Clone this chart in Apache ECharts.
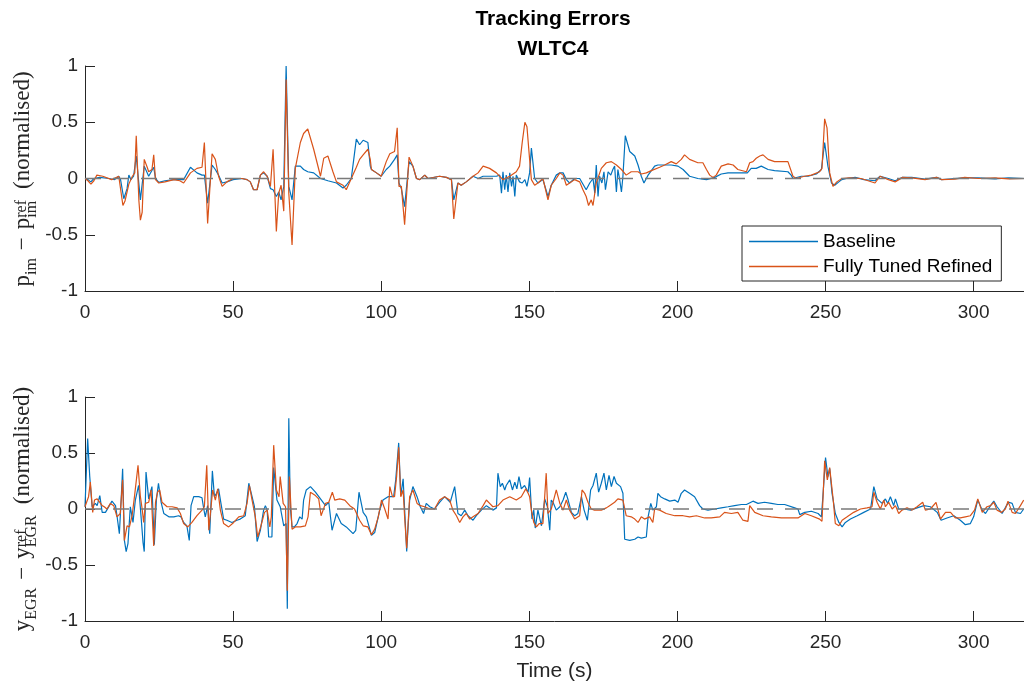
<!DOCTYPE html>
<html lang="en">
<head>
    <meta charset="UTF-8">
    <title>Tracking Errors WLTC4</title>
    <script src="https://cdn.jsdelivr.net/npm/echarts@6/dist/echarts.min.js"></script>
    <style>
        html, body {
            margin: 0;
            padding: 0;
            background: #fff;
        }

        #main {
            width: 1024px;
            height: 687px;
        }
    </style>
</head>
<body>
<div id="main"></div>
<script type="text/javascript">
    // axis ticks
    var timeTicks = [0, 50, 100, 150, 200, 250, 300];
    var timeMax = 317;
    var errorTicks = [-1, -0.5, 0, 0.5, 1];
    var seriesNames = ['Baseline', 'Fully Tuned Refined'];

    // [time (s), normalised error]  -- intake manifold pressure
    var pimBaseline = [
        [0, 0], [1, -0.01], [2, -0.03], [3, 0], [5, 0.01], [8, 0], [10, -0.01], [11.4, 0.02], [12, -0.01], [13.1, -0.18],
        [14.2, -0.09], [14.8, 0.03], [15.5, -0.01], [16.4, 0.02], [17.3, 0.2], [18.7, -0.19], [20, 0.11], [21.5, 0.02],
        [23.2, 0.1], [23.8, 0], [24.9, -0.035], [27, -0.02], [30, -0.01], [33.3, -0.01], [35.6, 0.1], [37.8, 0.05],
        [39.5, 0.03], [40.3, 0.03], [41.4, -0.22], [42.9, 0.12], [44, 0.08], [45.1, 0.03], [46.3, -0.04], [47.9, -0.03],
        [50, -0.01], [53, 0], [54.7, -0.01], [55.8, -0.03], [56.9, -0.1], [58.1, -0.1], [59.2, 0.03], [60.3, 0.05],
        [61.5, 0.02], [62.6, -0.09], [63.5, -0.1], [64.6, -0.16], [65.4, -0.12], [66.2, -0.19], [67.1, -0.07], [67.9, 1.0],
        [68.8, -0.07], [69.9, -0.19], [71, 0.11], [72.7, 0.11], [73.8, 0.08], [75.2, 0.06], [77.2, 0.05], [79.5, 0],
        [82, -0.02], [84.9, -0.04], [87.1, -0.085], [88.2, -0.06], [89.9, 0], [91.6, 0.35], [92.7, 0.3], [93.9, 0.34],
        [95.5, 0.32], [96.3, 0.11], [96.7, 0.08], [98.4, 0.05], [100, 0.02], [101.7, 0.08], [102.9, 0.11], [104.5, 0.17],
        [105.4, 0.21], [106, -0.04], [106.8, -0.09], [107.9, -0.25], [109.4, 0.15], [110.7, 0.11], [111.9, 0], [113, -0.01],
        [114.7, 0.03], [115.8, 0], [119.7, 0.02], [122, 0.01], [123.7, -0.01], [124.5, -0.19], [125.9, -0.04], [127, -0.06],
        [128.7, -0.03], [131, 0.02], [132.7, 0], [134.4, 0.02], [136.6, 0.02], [138.9, 0.02], [140, 0.03], [140.6, -0.13],
        [141.1, 0.06], [141.7, -0.1], [142.2, 0.03], [142.8, -0.12], [143.4, 0.05], [144, -0.07], [144.5, 0.02], [145.1, -0.16],
        [145.6, 0.03], [146.7, -0.03], [147.6, -0.04], [148.5, -0.01], [149.2, -0.07], [150.1, 0.05], [150.7, 0.27],
        [151.2, 0.26], [151.8, 0], [152.9, -0.04], [154.6, -0.01], [156.3, -0.16], [157.4, -0.06], [159.1, 0.03], [160.3, 0.05],
        [161.4, 0.05], [162.5, -0.01], [163.6, -0.04], [165.3, 0], [167, 0], [169.2, -0.1], [170.4, -0.04], [171.5, 0],
        [172.1, -0.13], [172.6, 0.12], [173.2, -0.16], [173.7, 0.02], [174.5, -0.04], [175.2, 0.06], [175.7, -0.1],
        [176.6, 0.06], [177.5, 0.03], [178.2, 0.08], [178.8, 0.11], [179.4, -0.12], [179.9, 0.08], [180.5, -0.01],
        [181.1, -0.12], [181.6, 0.02], [182.4, 0.38], [183.9, 0.24], [185.6, 0.2], [186.7, 0.12], [187.8, 0.02], [188.7, -0.04],
        [190.1, 0.03], [192.3, 0.11], [193.4, 0.12], [195.7, 0.12], [197.9, 0.12], [200.2, 0.11], [201.9, 0.08], [204.1, 0.02],
        [206.9, 0], [209.8, -0.01], [212.6, 0.01], [214.8, 0.04], [217.1, 0.05], [220.4, 0.05], [223.6, 0.05], [224.9, 0.09],
        [226.6, 0.09], [228.3, 0.11], [230.6, 0.08], [232.8, 0.07], [237.3, 0.06], [238.4, 0.03], [239, 0], [241.8, 0.02],
        [244.1, 0.02], [246.9, 0.04], [248.6, 0.08], [249.7, 0.32], [250.8, 0.11], [252, -0.04], [253.1, -0.06], [254.5, -0.03],
        [255.5, -0.01], [257, 0], [260, 0.01], [263, -0.01], [266.7, -0.02], [268.4, 0.02], [271.2, 0], [273.5, -0.02],
        [276, 0.01], [279.1, 0.01], [283.6, -0.005], [287.5, 0.01], [289.2, -0.01], [293.7, 0], [297, 0.005], [301.6, 0.005],
        [307.2, -0.003], [311.7, 0.005], [317, 0]
    ];
    var pimTuned = [
        [0, 0], [1, -0.02], [2, -0.05], [3, -0.02], [4, 0.03], [6, 0.02], [9, -0.01], [11.4, 0.02], [12, 0.01], [12.8, -0.24],
        [13.5, -0.2], [14.8, -0.05], [16, 0.02], [16.8, 0.05], [17.3, 0.38], [18.2, -0.2], [18.7, -0.37], [19.3, -0.3],
        [20, 0.17], [21, 0.1], [21.5, 0.06], [22.6, 0.08], [23.2, 0.21], [23.8, -0.01], [24.9, -0.04], [27, -0.03], [30, -0.01],
        [32, -0.02], [33.3, -0.04], [35.6, 0.05], [37.8, 0.09], [39.5, 0.1], [40.3, 0.32], [41.4, -0.4], [42.9, 0.22],
        [44, 0.17], [45.1, 0.02], [46.3, -0.07], [47.9, -0.03], [50, 0], [53, 0], [54.7, -0.01], [55.8, -0.03], [56.9, -0.1],
        [58.1, -0.1], [59.2, 0.03], [60.3, 0.06], [61.5, 0.02], [62.6, -0.07], [63.5, 0.26], [64.6, -0.47], [65.4, -0.13],
        [66.2, -0.06], [67.1, -0.29], [67.9, 0.88], [68.8, -0.13], [69.9, -0.59], [71, 0.09], [72.7, 0.32], [73.8, 0.4],
        [75.2, 0.44], [77.2, 0.26], [79.5, 0.02], [80.6, 0.18], [82, 0.2], [83.7, 0.06], [84.9, -0.03], [87.1, -0.06],
        [88.2, -0.1], [89.9, 0], [91.6, 0.1], [92.7, 0.17], [93.9, 0.21], [95.5, 0.26], [96.3, 0.17], [96.7, 0.08], [98.4, 0.05],
        [100, 0.02], [101.7, 0.15], [102.9, 0.22], [104.5, 0.24], [105.4, 0.45], [106, -0.07], [106.8, -0.07], [107.9, -0.41],
        [109.4, 0.19], [110.7, 0.11], [111.9, 0], [113, -0.01], [114.7, 0.03], [115.8, 0], [119.7, 0.02], [122, 0.01],
        [123.7, -0.01], [124.5, -0.36], [125.9, -0.04], [127, -0.06], [128.7, -0.03], [131, 0.02], [132.7, 0.05], [134.4, 0.11],
        [136.6, 0.09], [138.9, 0.05], [141.1, -0.01], [143.4, 0.02], [145.6, 0.06], [146.7, 0.11], [147.6, 0.32], [148.5, 0.5],
        [149.2, 0.46], [150.1, 0.17], [150.7, -0.01], [151.8, -0.06], [152.9, -0.04], [154.6, 0], [156.3, -0.19], [157.4, -0.06],
        [159.1, 0], [160.3, 0.05], [161.4, 0.03], [162.5, -0.06], [163.6, -0.04], [165.3, -0.01], [167, -0.03], [168.1, -0.1],
        [169.2, -0.16], [170, -0.24], [170.9, -0.19], [171.5, -0.24], [172.6, -0.04], [174.3, 0.09], [176, 0.14], [177.7, 0.15],
        [179.4, 0.12], [181.1, 0.08], [182.7, 0.03], [184.4, 0.06], [186.7, 0.06], [187.8, 0.04], [189.5, 0.05], [191.2, 0.07],
        [194, 0.1], [195.7, 0.12], [197.9, 0.15], [199.6, 0.13], [201.3, 0.17], [202.4, 0.21], [204.1, 0.17], [206.9, 0.14],
        [208.6, 0.14], [209.8, 0.08], [210.9, 0.03], [212, 0.01], [213.1, 0.03], [214.8, 0.11], [217.1, 0.13], [218.8, 0.12],
        [220.4, 0.08], [223.3, 0.06], [224.4, 0.14], [225.5, 0.15], [226.6, 0.18], [227.8, 0.2], [228.9, 0.21], [230.6, 0.17],
        [232.8, 0.15], [237.3, 0.15], [239, 0.02], [240.1, 0], [242.9, 0.02], [245.2, 0.03], [248, 0.06], [248.8, 0.09],
        [249.7, 0.53], [250.5, 0.45], [251.4, 0.05], [252.5, -0.07], [253.8, -0.03], [255.5, 0], [258, 0.005], [262, 0],
        [266.7, -0.04], [268.4, 0.02], [271.2, -0.01], [273.5, -0.03], [276, 0.01], [279.1, 0.005], [283.6, -0.01],
        [287.5, 0.01], [289.2, -0.01], [293.7, -0.005], [297, 0.01], [301.6, 0], [307.2, 0.005], [311.7, -0.003], [317, 0]
    ];

    // [time (s), normalised error]  -- EGR fraction
    var egrBaseline = [
        [0, 0.02], [0.9, 0.63], [1.6, 0.29], [2.4, 0.02], [2.9, 0.03], [3.5, 0.05], [4.1, 0.03], [5, 0.12], [5.8, -0.03],
        [6.9, -0.03], [7.4, -0.04], [9.1, 0.07], [10.3, 0.03], [10.8, -0.06], [11.6, -0.22], [12.2, 0.08], [12.7, 0.36],
        [13.3, -0.28], [13.9, -0.38], [14.5, -0.31], [15.3, 0.02], [16.2, -0.12], [17, 0.08], [18.1, 0.21], [18.9, -0.06],
        [19.6, -0.3], [20, -0.38], [20.6, 0.33], [21.5, 0.09], [22.6, 0.2], [23.4, -0.32], [24.1, 0.08], [24.8, 0.23],
        [25.7, 0.06], [26.6, -0.04], [28.3, -0.07], [30, -0.07], [31.6, -0.06], [32.4, -0.07], [33.3, -0.12], [34.4, -0.15],
        [35.2, -0.28], [35.8, 0.03], [36.7, 0.11], [38.4, 0.11], [39.5, 0.1], [40.1, 0], [40.6, -0.07], [41.4, 0.03],
        [42.1, -0.22], [43, 0.34], [43.7, 0.11], [44.4, 0.14], [45.1, 0.18], [45.9, 0.05], [46.8, -0.09], [47.9, -0.1],
        [49.6, -0.12], [51.3, -0.1], [52.4, -0.09], [54.1, -0.06], [55.3, 0.23], [56.4, 0.11], [57.2, 0.02], [58.1, -0.29],
        [59.2, -0.19], [60.3, -0.01], [60.9, 0.03], [61.5, -0.01], [62, -0.25], [63.1, -0.25], [63.7, 0.37], [64.8, 0.08],
        [65.9, 0.02], [67.1, -0.15], [67.9, -0.13], [68.3, -0.89], [68.8, 0.81], [69.3, 0.02], [69.9, -0.16], [70.7, -0.16],
        [71.6, -0.13], [72.5, -0.07], [73.3, -0.09], [73.8, 0.08], [74.7, 0.17], [76.1, 0.2], [77.8, 0.15], [79.5, 0.09],
        [81.2, 0.03], [82.3, 0.06], [83.4, -0.19], [84.9, -0.04], [86.5, -0.13], [88.2, -0.16], [90.5, -0.22], [91.4, -0.19],
        [92.5, 0.15], [93.9, -0.03], [95, -0.07], [96.7, -0.235], [97.8, -0.21], [99.5, -0.01], [100.6, 0.08], [102.3, 0.11],
        [103.4, 0.11], [104.2, 0.11], [104.9, 0.26], [105.9, 0.59], [106.6, 0.12], [107.4, 0.27], [107.9, 0], [108.6, -0.38],
        [109.6, 0.08], [110.7, 0.2], [112.1, 0.11], [113.2, 0.02], [114.3, -0.04], [115.2, 0.05], [116.4, 0.02], [118, 0],
        [119.7, 0.06], [121.4, 0.11], [123.3, 0.06], [124.8, 0.2], [125.9, -0.04], [127, -0.06], [128.2, -0.01], [129.3, -0.06],
        [131, -0.1], [132.1, -0.06], [133.8, -0.01], [135.5, 0.03], [137.7, -0.01], [138.9, 0.01], [139.4, 0.32], [140.2, 0.2],
        [140.9, 0.23], [141.7, 0.17], [142.2, 0.21], [143.4, 0.26], [144.3, 0.17], [145.1, 0.24], [145.8, 0.18], [146.5, 0.29],
        [147.3, 0.18], [148.4, 0.21], [149.6, 0.15], [150.1, 0.28], [150.9, -0.09], [151.5, -0.01], [152, -0.17], [152.9, -0.01],
        [154.1, -0.15], [155.2, 0.09], [156.1, 0.02], [156.9, -0.19], [157.4, 0.08], [158, 0.06], [159.1, -0.01], [160.3, 0.02],
        [161.4, 0.08], [162.3, 0.15], [163.1, 0.08], [164.2, -0.03], [165.3, -0.06], [166.4, -0.04], [167.6, 0.11],
        [168.5, -0.01], [169.6, -0.1], [170.7, 0.17], [171.5, 0.21], [172.6, 0.32], [173.4, 0.15], [174.3, 0.23], [175.2, 0.32],
        [176, 0.17], [176.9, 0.3], [177.7, 0.2], [178.6, 0.29], [179.4, 0.23], [180.8, 0.2], [181.6, 0.14], [182.2, -0.27],
        [183.9, -0.28], [185.6, -0.27], [186.7, -0.25], [187.8, -0.26], [189.5, -0.25], [190.1, -0.07], [191, 0.05],
        [191.7, -0.01], [192.9, 0.02], [193.4, 0.14], [194.3, 0.11], [195.7, 0.09], [197.4, 0.07], [199.1, 0.08], [200.2, 0.06],
        [201.3, 0.14], [202.4, 0.17], [204.1, 0.14], [205.8, 0.11], [207.5, 0.03], [208.6, 0], [210.3, -0.01], [212.6, 0],
        [214.8, 0.01], [217.1, 0.02], [219.3, 0.03], [221.6, 0.04], [223.3, 0.04], [225.5, 0.07], [227.2, 0.05], [229.4, 0.06],
        [231.7, 0.05], [233.9, 0.04], [236.2, 0.04], [239.6, 0.01], [240.7, 0], [241.3, -0.05], [243, -0.03], [245.2, -0.02],
        [247.5, -0.04], [248.6, -0.07], [249.1, 0.11], [250, 0.46], [250.8, 0.29], [251.4, 0.36], [252.2, 0.14], [253.3, -0.04],
        [254.5, -0.12], [255.6, -0.16], [256.7, -0.12], [258.4, -0.09], [260.7, -0.06], [262.9, -0.03], [265.2, 0], [266.3, 0.2],
        [267.4, 0.09], [269.1, 0.05], [270.2, 0.09], [271, 0.05], [271.9, 0.11], [273, 0.03], [273.6, 0.09], [274.7, 0],
        [276.4, 0], [278.7, -0.01], [280.9, 0.01], [283.2, 0.03], [285.4, 0.02], [287.7, -0.03], [289, -0.1], [291, -0.08],
        [293.3, -0.06], [295.5, -0.1], [297.2, -0.14], [298.9, -0.13], [300, -0.07], [301.4, 0.08], [302.9, -0.01], [304, -0.04],
        [305.7, 0.03], [306.8, 0.07], [307.9, 0.02], [309.6, -0.04], [311.1, 0.03], [311.9, 0.06], [313, 0.05], [314.1, -0.03],
        [315.8, -0.04], [316.9, 0]
    ];
    var egrTuned = [
        [0, 0.02], [1.2, 0.11], [1.8, 0.24], [2.6, -0.03], [3.2, 0.08], [4.1, 0.09], [5, 0.06], [5.8, 0.03], [6.5, 0.02],
        [7.4, 0], [8.6, 0.05], [9.7, 0.03], [10.8, -0.07], [11.9, -0.04], [12.7, 0.26], [13.3, -0.28], [14.2, -0.15],
        [15, -0.16], [15.9, -0.06], [16.7, 0.11], [17.9, 0.39], [18.7, 0.11], [19.3, 0], [19.8, -0.12], [20.4, 0.05],
        [21.5, 0.06], [22.3, 0.17], [23.2, -0.33], [23.8, 0.06], [24.5, 0.15], [25.2, 0.17], [26, 0.06], [27.7, 0.02],
        [29.4, 0.02], [31.1, 0.01], [32.2, -0.04], [33.3, -0.13], [34.7, -0.16], [36.1, -0.12], [37.8, -0.06], [39.5, -0.01],
        [40.3, 0.02], [41.1, 0.39], [41.8, -0.19], [42.3, -0.19], [43.1, 0.17], [44, 0.08], [44.8, 0.18], [45.7, -0.01],
        [46.8, -0.13], [48.5, -0.16], [50.2, -0.12], [51.9, -0.07], [53.6, -0.06], [54.7, 0.05], [55.5, 0.21], [56.4, 0.08],
        [57.5, -0.07], [58.3, -0.25], [59.4, -0.15], [60.6, -0.03], [61.5, -0.01], [62.4, -0.16], [62.9, -0.07], [63.7, 0.57],
        [64.6, 0.17], [65.5, 0.11], [65.9, 0.29], [66.9, 0.05], [67.7, 0.02], [68.3, -0.73], [69, 0.29], [69.9, -0.18],
        [71, -0.16], [72.7, -0.16], [74.4, -0.15], [75.3, -0.07], [76.1, 0.15], [77.8, 0.12], [78.9, 0.09], [79.7, -0.06],
        [81.2, 0.05], [82.3, 0.06], [83.5, 0.15], [84.3, 0.08], [86, 0.09], [87.7, 0.08], [89.4, 0.03], [91, 0], [92.7, -0.1],
        [93.9, -0.15], [95.5, -0.16], [96.7, -0.23], [97.8, -0.18], [99, -0.07], [100.1, 0.08], [101.2, 0], [102.3, -0.09],
        [102.9, 0.2], [103.8, 0.11], [104.5, 0.11], [105.2, 0.29], [105.9, 0.55], [106.6, 0.11], [107.4, 0.17], [107.9, -0.07],
        [108.6, -0.35], [109.6, 0.11], [110.7, 0.17], [112.1, 0.05], [113.2, 0.03], [114.7, 0.02], [116.4, 0], [118, 0],
        [119.7, 0.08], [121.4, 0.11], [123.1, 0.08], [124.2, -0.01], [125.4, -0.06], [126.5, -0.12], [127.6, -0.07],
        [128.7, -0.04], [129.9, -0.09], [131, -0.07], [132.7, -0.04], [134.4, 0.03], [135.5, 0.08], [136.6, 0.05], [137.7, 0.02],
        [139.4, 0.03], [141.1, 0.08], [143.4, 0.11], [145.6, 0.08], [147.3, 0.11], [148.8, 0.18], [149.6, 0.14], [150.1, 0.11],
        [150.7, -0.01], [151.5, -0.12], [152.4, -0.16], [153.3, -0.13], [154.6, -0.13], [155.7, 0.32], [156.3, -0.04],
        [157.4, 0], [158.2, 0.08], [159.1, 0.17], [160.3, 0.05], [161.4, -0.01], [162.5, 0.08], [163.6, -0.01], [164.7, -0.06],
        [165.3, -0.09], [167, -0.06], [167.8, 0.17], [168.7, 0.14], [169.8, 0.06], [170.9, 0], [172, -0.01], [174.3, -0.01],
        [176, 0.01], [177.1, 0.03], [178.8, 0.06], [179.9, 0.09], [181.6, 0.08], [182.7, -0.06], [184.4, -0.07], [185.6, -0.09],
        [186.7, -0.12], [187.8, -0.07], [188.9, -0.09], [190.6, -0.07], [191.7, -0.12], [192.3, 0], [194, -0.01], [196.2, -0.04],
        [199.1, -0.06], [201.9, -0.06], [204.1, -0.07], [206.4, -0.06], [209.2, -0.08], [211.4, -0.08], [214.3, -0.07],
        [215.9, -0.03], [218.2, -0.04], [220.4, -0.03], [222.1, -0.1], [223.8, -0.11], [224.4, 0.03], [226.1, -0.03],
        [228.9, -0.06], [231.7, -0.07], [235.1, -0.08], [238.5, -0.08], [240.7, -0.08], [243, -0.04], [245.2, -0.06], [248, -0.09],
        [248.8, -0.11], [249.7, 0.43], [250.6, 0.26], [251.4, 0.37], [252.6, 0.08], [253.3, -0.13], [254.5, -0.15],
        [255.6, -0.1], [257.3, -0.07], [259.5, -0.03], [261.8, 0], [264, 0.01], [265.7, 0.02], [266.3, 0.15], [267.4, 0.06],
        [268.5, 0], [269.7, 0.08], [270.2, 0.02], [271.3, 0.06], [272.5, 0], [273.6, 0.03], [274.7, -0.04], [275.8, -0.01],
        [277.5, 0.01], [279.2, -0.01], [280.9, 0.02], [282.8, 0.06], [283.7, -0.01], [285.4, 0], [287.3, 0.06], [288.8, -0.09],
        [290.5, -0.03], [292.2, -0.03], [293.8, -0.08], [295.5, -0.08], [297.2, -0.07], [298.9, -0.06], [300.3, -0.01],
        [301.4, 0.09], [302.9, -0.03], [304.5, 0.02], [305.7, 0.03], [306.8, 0.06], [307.9, -0.01], [309.4, -0.03], [310.7, 0],
        [311.6, 0.07], [313, -0.03], [314.1, -0.04], [315.8, 0.03], [316.9, 0.08]
    ];
    // dashed zero reference
    var zeroRef = [[0, 0], [timeMax, 0]];

    var axisColor = '#262626';
    var sans = '"Liberation Sans", Arial, Helvetica, sans-serif';
    var serif = '"Liberation Serif", "Times New Roman", serif';
    var colors = ['#0072BD', '#D95319'];

    // measure text for the LaTeX-like y labels
    var measureCtx = document.createElement('canvas').getContext('2d');

    function textWidth(text, size) {
        measureCtx.font = size + 'px ' + serif;
        return measureCtx.measureText(text).width;
    }

    function mathLabel(base, sub, centerY) {
        var big = 23, small = 16;
        var parts = [];
        var x = 0;

        function put(text, size, shift) {
            parts.push({
                type: 'text', x: x, y: shift - 0.3375 * size,
                style: {
                    text: text, fontSize: size, fontFamily: serif, fill: axisColor,
                    align: 'left', verticalAlign: 'middle'
                }
            });
            return textWidth(text, size);
        }

        x += put(base, big, 0);
        x += put(sub, small, 6) + 8;
        x += put('\u2212', big, 0) + 8;
        x += put(base, big, 0);
        var w1 = put('ref', small, -4);
        var w2 = put(sub, small, 6);
        x += Math.max(w1, w2) + 11;
        x += put('(normalised)', big, 0);
        return {type: 'group', x: 31, y: centerY + x / 2, rotation: Math.PI / 2, children: parts};
    }

    function xAxisOf(grid, name) {
        return {
            type: 'value', gridIndex: grid, min: 0, max: timeMax, interval: 50,
            name: name, nameLocation: 'middle', nameGap: 40,
            nameTextStyle: {fontSize: 21, color: axisColor, fontFamily: sans},
            axisLine: {show: true, onZero: false, lineStyle: {color: axisColor, width: 1}},
            axisTick: {show: true, inside: true, length: 10, customValues: timeTicks, lineStyle: {color: axisColor}},
            axisLabel: {color: axisColor, fontSize: 19, fontFamily: sans, margin: 12, customValues: timeTicks},
            splitLine: {show: false}
        };
    }

    function yAxisOf(grid) {
        return {
            type: 'value', gridIndex: grid, min: -1, max: 1, interval: 0.5,
            axisLine: {show: true, onZero: false, lineStyle: {color: axisColor, width: 1}},
            axisTick: {show: true, inside: true, length: 10, customValues: errorTicks, lineStyle: {color: axisColor}},
            axisLabel: {color: axisColor, fontSize: 19, fontFamily: sans, margin: 7, customValues: errorTicks},
            splitLine: {show: false}
        };
    }

    function lineOf(name, idx, data, color) {
        return {
            name: name, type: 'line', xAxisIndex: idx, yAxisIndex: idx, data: data,
            showSymbol: false, symbol: 'none',
            lineStyle: {width: 1.2, color: color}, itemStyle: {color: color}, z: 2
        };
    }

    function zeroOf(idx) {
        return {
            name: 'zero', type: 'line', xAxisIndex: idx, yAxisIndex: idx, data: zeroRef,
            showSymbol: false, symbol: 'none', silent: true,
            lineStyle: {width: 1.3, color: '#7a7a7a', type: [16, 12]}, z: 3
        };
    }

    var myChart = echarts.init(document.getElementById('main'));
    var option = {
        animation: false,
        backgroundColor: '#fff',
        graphic: [
            {
                type: 'text', x: 553, y: 4,
                style: {
                    text: 'Tracking Errors\nWLTC4', fontSize: 21, fontWeight: 'bold', fontFamily: sans,
                    lineHeight: 30, fill: '#000', align: 'center', verticalAlign: 'top'
                }
            },
            mathLabel('p', 'im', 179),
            mathLabel('y', 'EGR', 509)
        ],
        legend: {
            data: seriesNames, orient: 'vertical', left: 742, top: 226,
            icon: 'rect', itemWidth: 69, itemHeight: 1.5, itemGap: 6,
            padding: [6, 9, 5, 7],
            borderColor: axisColor, borderWidth: 1, backgroundColor: '#fff',
            textStyle: {fontSize: 19, color: '#000', fontFamily: sans}
        },
        grid: [
            {left: 85, top: 66, width: 939, height: 225},
            {left: 85, top: 397, width: 939, height: 224}
        ],
        xAxis: [xAxisOf(0, ''), xAxisOf(1, 'Time (s)')],
        yAxis: [yAxisOf(0), yAxisOf(1)],
        series: [
            lineOf(seriesNames[0], 0, pimBaseline, colors[0]),
            lineOf(seriesNames[1], 0, pimTuned, colors[1]),
            zeroOf(0),
            lineOf(seriesNames[0], 1, egrBaseline, colors[0]),
            lineOf(seriesNames[1], 1, egrTuned, colors[1]),
            zeroOf(1)
        ]
    };
    myChart.setOption(option);
</script>
</body>
</html>
